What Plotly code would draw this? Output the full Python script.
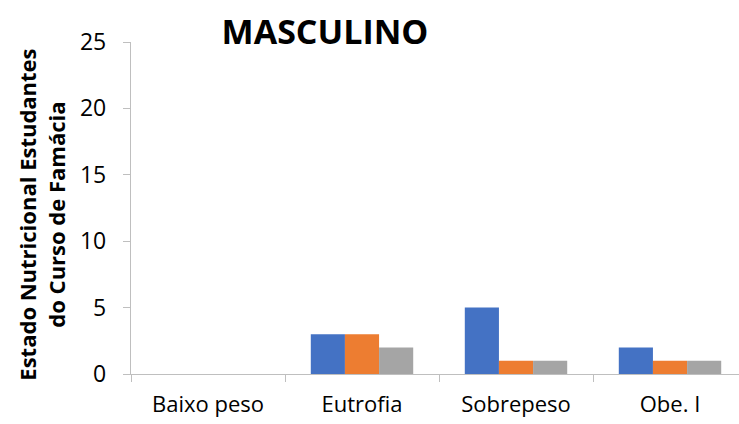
import plotly.graph_objects as go

categories = ["Baixo peso", "Eutrofia", "Sobrepeso", "Obe. I"]
series_a = [0, 3, 5, 2]
series_b = [0, 3, 1, 1]
series_c = [0, 2, 1, 1]
colors = ["#4472C4", "#ED7D31", "#A5A5A5"]
y_ticks = [0, 5, 10, 15, 20, 25]

fig = go.Figure()
for name, vals, col in zip(["S1", "S2", "S3"], [series_a, series_b, series_c], colors):
    fig.add_trace(go.Bar(x=categories, y=vals, name=name, marker=dict(color=col, line=dict(width=0))))

font_family = "Open Sans, Liberation Sans, sans-serif"
axis_col = "#BFBFBF"
fig.update_layout(
    width=739, height=424,
    margin=dict(l=131, r=0, t=42, b=50),
    paper_bgcolor="white", plot_bgcolor="white",
    barmode="group", bargap=0.335, bargroupgap=0,
    showlegend=False,
    font=dict(family=font_family, color="black"),
    title=dict(text="<b>MASCULINO</b>", x=325/739, xanchor="center", y=1 - 32/424, yanchor="middle",
               font=dict(size=34, family=font_family, color="black")),
    xaxis=dict(range=[-0.5, 3.448], showline=True, linecolor=axis_col, linewidth=1.3,
               ticks="outside", tickson="boundaries", ticklen=7, tickcolor=axis_col, tickwidth=1.3,
               tickfont=dict(size=22), showgrid=False, ticklabelstandoff=10),
    yaxis=dict(range=[0, 25], tickvals=y_ticks, showline=True, linecolor=axis_col, linewidth=1.3,
               ticks="outside", ticklen=7, tickcolor=axis_col, tickwidth=1.3,
               tickfont=dict(size=23), showgrid=False, zeroline=False, ticklabelstandoff=12),
    annotations=[dict(text="<b>Estado Nutricional Estudantes<br>do Curso de Famácia</b>",
                      xref="paper", yref="paper", x=(42 - 131) / 608, y=0.48, xanchor="center", yanchor="middle",
                      textangle=-90, showarrow=False, font=dict(size=22, family=font_family, color="black"))],
)
fig.write_html("out.html")
